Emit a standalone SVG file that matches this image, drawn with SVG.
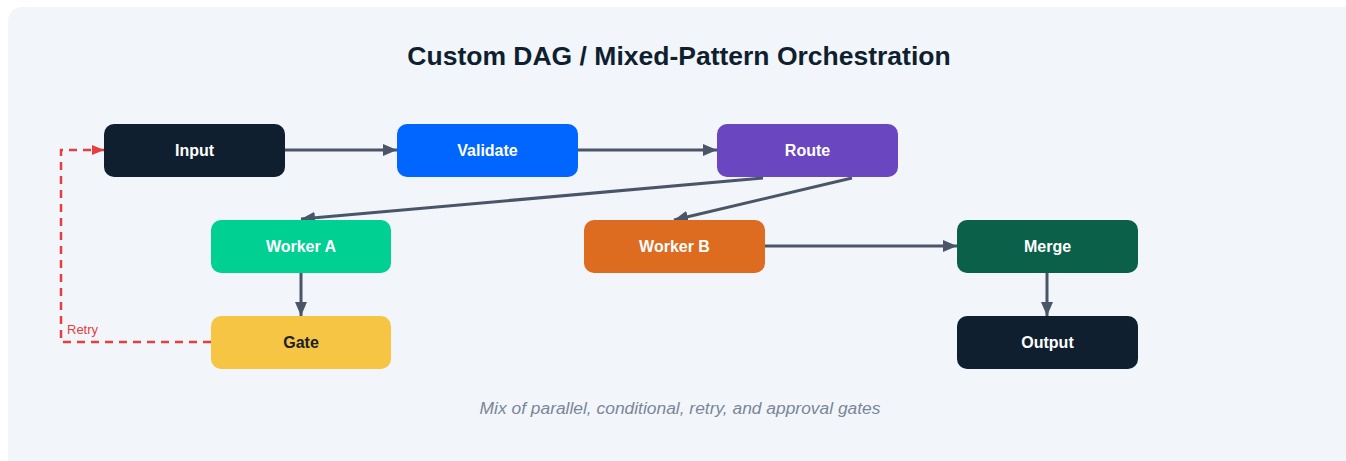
<svg xmlns="http://www.w3.org/2000/svg" width="1346" height="461" viewBox="0 0 1346 461">
  <style>
    .node-label { font-family: "Liberation Sans", Arial, sans-serif; font-size: 16px; font-weight: bold; fill: #ffffff; text-anchor: middle; dominant-baseline: central; }
    .dark-label { fill: #1a202c; }
    .edge { fill: none; stroke: #4a5568; stroke-width: 3; marker-end: url(#arrow); }
    .retry { fill: none; stroke: #e53e3e; stroke-width: 2.5; stroke-dasharray: 8 6; marker-end: url(#arrow-red); }
  </style>
  <defs>
    <marker id="arrow" viewBox="0 0 14 12" refX="14" refY="6" markerWidth="14" markerHeight="12" orient="auto" markerUnits="userSpaceOnUse">
      <path d="M0,0 L14,6 L0,12 z" fill="#4a5568"/>
    </marker>
    <marker id="arrow-red" viewBox="0 0 12 10" refX="12" refY="5" markerWidth="12" markerHeight="10" orient="auto" markerUnits="userSpaceOnUse">
      <path d="M0,0 L12,5 L0,10 z" fill="#e53e3e"/>
    </marker>
  </defs>

  <!-- panel -->
  <rect x="8" y="7" width="1350" height="470" rx="14" fill="#f2f6fa"/>

  <text x="679" y="65" font-family="'Liberation Sans', Arial, sans-serif" font-size="26.5" font-weight="bold" fill="#0f1f30" text-anchor="middle">Custom DAG / Mixed-Pattern Orchestration</text>

  <!-- connectors -->
  <g id="edges">
    <line class="edge" x1="285" y1="150" x2="397" y2="150"/>
    <line class="edge" x1="578" y1="150" x2="717" y2="150"/>
    <line class="edge" x1="763" y1="178" x2="301" y2="219"/>
    <line class="edge" x1="852" y1="178" x2="674" y2="220"/>
    <line class="edge" x1="765" y1="246" x2="957" y2="246"/>
    <line class="edge" x1="301" y1="273" x2="301" y2="316"/>
    <line class="edge" x1="1047" y1="273" x2="1047" y2="316"/>
    <path class="retry" d="M211,342 H61 V150 H104"/>
    <text x="67" y="334" font-family="'Liberation Sans', Arial, sans-serif" font-size="13" fill="#e53e3e">Retry</text>
  </g>

  <g id="node-input">
    <rect x="104" y="124" width="181" height="53" rx="10" fill="#0f1f30"/>
    <text class="node-label" x="194.5" y="150.5">Input</text>
  </g>
  <g id="node-validate">
    <rect x="397" y="124" width="181" height="53" rx="10" fill="#0066ff"/>
    <text class="node-label" x="487.5" y="150.5">Validate</text>
  </g>
  <g id="node-route">
    <rect x="717" y="124" width="181" height="53" rx="10" fill="#6b46c1"/>
    <text class="node-label" x="807.5" y="150.5">Route</text>
  </g>
  <g id="node-worker-a">
    <rect x="211" y="220" width="180" height="53" rx="10" fill="#00d092"/>
    <text class="node-label" x="301" y="246.5">Worker A</text>
  </g>
  <g id="node-worker-b">
    <rect x="584" y="220" width="181" height="53" rx="10" fill="#dd6b20"/>
    <text class="node-label" x="674.5" y="246.5">Worker B</text>
  </g>
  <g id="node-merge">
    <rect x="957" y="220" width="181" height="53" rx="10" fill="#0a6048"/>
    <text class="node-label" x="1047.5" y="246.5">Merge</text>
  </g>
  <g id="node-gate">
    <rect x="211" y="316" width="180" height="53" rx="10" fill="#f6c543"/>
    <text class="node-label dark-label" x="301" y="342.5">Gate</text>
  </g>
  <g id="node-output">
    <rect x="957" y="316" width="181" height="53" rx="10" fill="#0f1f30"/>
    <text class="node-label" x="1047.5" y="342.5">Output</text>
  </g>

  <text x="680" y="414" font-family="'Liberation Sans', Arial, sans-serif" font-size="17.4" font-style="italic" fill="#7a8699" text-anchor="middle">Mix of parallel, conditional, retry, and approval gates</text>
</svg>
